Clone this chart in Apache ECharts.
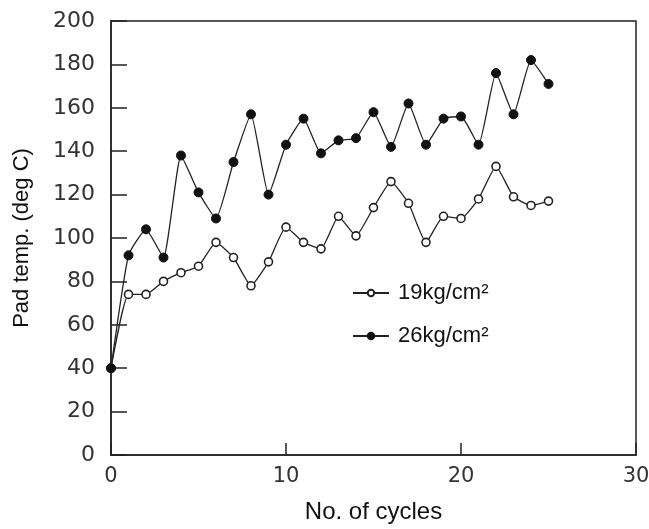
<!DOCTYPE html>
<html>
<head>
<meta charset="utf-8">
<script src="https://cdn.jsdelivr.net/npm/echarts@6/dist/echarts.min.js"></script>
<style>
html,body{margin:0;padding:0;background:#fff;}
#c{width:649px;height:529px;}
</style>
</head>
<body>
<div id="c"></div>
<script>
var cycles = [0,1,2,3,4,5,6,7,8,9,10,11,12,13,14,15,16,17,18,19,20,21,22,23,24,25];
var temp19 = [40,74,74,80,84,87,98,91,78,89,105,98,95,110,101,114,126,116,98,110,109,118,133,119,115,117];
var temp26 = [40,92,104,91,138,121,109,135,157,120,143,155,139,145,146,158,142,162,143,155,156,143,176,157,182,171];
var seriesNames = ['19kg/cm\u00B2', '26kg/cm\u00B2'];
var xTitle = 'No. of cycles';
var yTitle = 'Pad temp. (deg C)';

function pairs(xs, ys){ return xs.map(function(x,i){ return [x, ys[i]]; }); }

var chart = echarts.init(document.getElementById('c'), null, {renderer:'canvas'});
chart.setOption({
  animation:false,
  backgroundColor:'#fff',
  grid:{left:111, top:21, right:13, bottom:74, containLabel:false, outerBoundsMode:'none',
        show:true, borderColor:'#222', borderWidth:1.5, backgroundColor:'transparent'},
  legend:{
    orient:'vertical', left:347, top:277, itemWidth:36, itemHeight:8, itemGap:21,
    textStyle:{fontFamily:'Liberation Sans', fontSize:22, color:'#111', lineHeight:22, padding:[0,0,0,4]},
    data:seriesNames
  },
  xAxis:{
    type:'value', min:0, max:30, interval:10,
    name:xTitle, nameLocation:'middle', nameGap:45,
    nameTextStyle:{fontFamily:'Liberation Sans', fontSize:24, color:'#111'},
    axisLine:{show:true, lineStyle:{color:'#222', width:1.5}},
    axisTick:{show:true, inside:true, length:12, lineStyle:{color:'#222', width:1.5}},
    axisLabel:{show:true, margin:11, fontFamily:'DejaVu Sans', fontSize:21, color:'#333'},
    splitLine:{show:false}
  },
  yAxis:{
    type:'value', min:0, max:200, interval:20,
    name:yTitle, nameLocation:'middle', nameGap:78, nameRotate:90,
    nameTextStyle:{fontFamily:'Liberation Sans', fontSize:22, color:'#111'},
    axisLine:{show:true, lineStyle:{color:'#222', width:1.5}},
    axisTick:{show:true, inside:true, length:16, lineStyle:{color:'#222', width:1.5}},
    axisLabel:{show:true, margin:16, fontFamily:'DejaVu Sans', fontSize:22, color:'#333'},
    splitLine:{show:false}
  },
  series:[
    {
      name:seriesNames[0], type:'line', data:pairs(cycles, temp19), smooth:0.15,
      symbol:'circle', symbolSize:8, showAllSymbol:true,
      lineStyle:{color:'#222', width:1.3},
      itemStyle:{color:'#fff', borderColor:'#222', borderWidth:1.6}
    },
    {
      name:seriesNames[1], type:'line', data:pairs(cycles, temp26), smooth:0.15,
      symbol:'circle', symbolSize:9, showAllSymbol:true,
      lineStyle:{color:'#222', width:1.3},
      itemStyle:{color:'#111', borderColor:'#111', borderWidth:1}
    }
  ]
});
</script>
</body>
</html>
